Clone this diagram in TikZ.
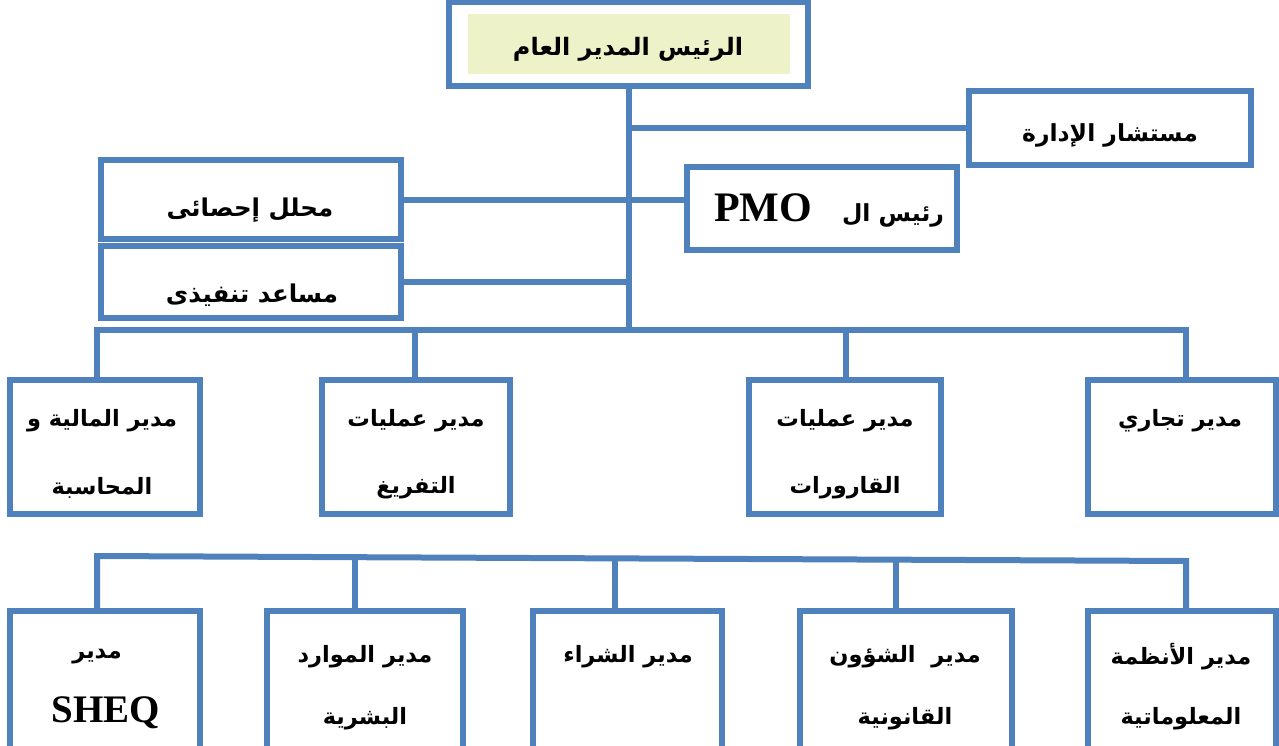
\documentclass[tikz,border=0pt]{standalone}
\usepackage{fontspec}
\TeXXeTstate=1
\newfontfamily\arabicfont[Script=Arabic]{DejaVu Sans}
\newfontfamily\latinfont{Liberation Serif}
\definecolor{orgblue}{HTML}{4F81BD}
\definecolor{headfill}{HTML}{EEF2C8}
\begin{document}
\begin{tikzpicture}[x=1pt,y=-1pt,
  box/.style={draw=orgblue,line width=6pt,rectangle,inner sep=0pt,line join=miter},
  conn/.style={draw=orgblue,line width=6pt,line join=miter},
  ar/.style={inner sep=0pt,font=\arabicfont\bfseries\fontsize{22.5}{26}\selectfont},
  armid/.style={inner sep=0pt,font=\arabicfont\bfseries\fontsize{24.5}{28}\selectfont},
  arbig/.style={inner sep=0pt,font=\arabicfont\bfseries\fontsize{24}{28}\selectfont},
  lat/.style={inner sep=0pt,font=\latinfont\bfseries\fontsize{39}{44}\selectfont}]
\useasboundingbox (0,0) rectangle (1279,745);
\clip (0,0) rectangle (1279,745);

% top management
\node[box,minimum width=359pt,minimum height=84pt] (ceo) at (628.5,44) {};
\node[fill=headfill,inner sep=0pt,minimum width=322pt,minimum height=60pt] (ceofill) at (629,44) {};
\node[arbig] (tceo) at (628,49) {\beginR الرئيس المدير العام\endR};

\node[box,minimum width=282pt,minimum height=74pt] (adv) at (1110,128) {};
\node[armid,font=\arabicfont\bfseries\fontsize{23.5}{28}\selectfont] (tadv) at (1110,135) {\beginR مستشار الإدارة\endR};

\node[box,minimum width=270pt,minimum height=83pt] (pmo) at (822,208.5) {};
\node[ar,font=\arabicfont\bfseries\fontsize{23.5}{28}\selectfont] (tpmo) at (829,210) {\beginR رئيس ال\hspace{30pt}{\latinfont\bfseries\fontsize{42}{44}\selectfont PMO}\endR};

\node[box,minimum width=300pt,minimum height=79pt] (stat) at (251,199.5) {};
\node[armid] (tstat) at (250,210) {\beginR محلل إحصائى\endR};

\node[box,minimum width=300pt,minimum height=72pt] (exec) at (251,282) {};
\node[armid] (texec) at (252,295) {\beginR مساعد تنفيذى\endR};

% first row of managers
\node[box,minimum width=190pt,minimum height=134pt] (fin) at (105,447) {};
\node[box,minimum width=188pt,minimum height=134pt] (unl) at (416,447) {};
\node[box,minimum width=192pt,minimum height=134pt] (btl) at (845,447) {};
\node[box,minimum width=188pt,minimum height=134pt] (com) at (1182,447) {};

\node[ar] (tfin1) at (102,421) {\beginR مدير المالية و\endR};
\node[ar] (tfin2) at (102,488) {\beginR المحاسبة\endR};
\node[ar] (tunl1) at (416,421) {\beginR مدير عمليات\endR};
\node[ar] (tunl2) at (416,488) {\beginR التفريغ\endR};
\node[ar] (tbtl1) at (845,421) {\beginR مدير عمليات\endR};
\node[ar] (tbtl2) at (845,488) {\beginR القارورات\endR};
\node[ar] (tcom1) at (1180,421) {\beginR مدير تجاري\endR};

% second row of managers
\node[box,minimum width=190pt,minimum height=159pt] (sheq) at (105,690.5) {};
\node[box,minimum width=196pt,minimum height=159pt] (hr) at (365,690.5) {};
\node[box,minimum width=189pt,minimum height=159pt] (pur) at (627.5,690.5) {};
\node[box,minimum width=212pt,minimum height=159pt] (leg) at (906,690.5) {};
\node[box,minimum width=188pt,minimum height=159pt] (it) at (1182,690.5) {};

\node[ar] (tsheq1) at (97,657) {\beginR مدير\endR};
\node[lat] (tsheq2) at (106,713) {SHEQ};
\node[ar] (thr1) at (365,657) {\beginR مدير الموارد\endR};
\node[ar] (thr2) at (365,719) {\beginR البشرية\endR};
\node[ar] (tpur1) at (628,657) {\beginR مدير الشراء\endR};
\node[ar] (tleg1) at (905,657) {\beginR مدير\ \ الشؤون\endR};
\node[ar] (tleg2) at (905,719) {\beginR القانونية\endR};
\node[ar] (tit1) at (1181,657) {\beginR مدير الأنظمة\endR};
\node[ar] (tit2) at (1181,719) {\beginR المعلوماتية\endR};

% connectors of the upper part
\coordinate (bus1) at (0,330);
\draw[conn] (ceo.south) -- (ceo.south |- bus1);
\draw[conn] (ceo.south |- adv.west) -- (adv.west);
\draw[conn] (stat.east) -- (stat.east -| pmo.west);
\draw[conn] (exec.east) -- (exec.east -| ceo.south);

% first bus with its drops
\draw[conn] ([xshift=-8pt]fin.north) -- ([xshift=-8pt]fin.north |- bus1)
  -- ([xshift=4pt]com.north |- bus1) -- ([xshift=4pt]com.north);
\draw[conn] ([xshift=-1pt]unl.north) -- ([xshift=-1pt]unl.north |- bus1);
\draw[conn] ([xshift=1pt]btl.north) -- ([xshift=1pt]btl.north |- bus1);

% second bus with its drops
\coordinate (b2l) at (97,556);
\coordinate (b2r) at (1186,561);
\coordinate (bus2) at (0,558.5);
\draw[conn] ([xshift=-8pt]sheq.north) -- (b2l) -- (b2r) -- ([xshift=4pt]it.north);
\draw[conn] ([xshift=-10pt]hr.north) -- ([xshift=-10pt]hr.north |- bus2);
\draw[conn] ([xshift=-12.5pt]pur.north) -- ([xshift=-12.5pt]pur.north |- bus2);
\draw[conn] ([xshift=-10pt]leg.north) -- ([xshift=-10pt]leg.north |- bus2);
\end{tikzpicture}
\end{document}
